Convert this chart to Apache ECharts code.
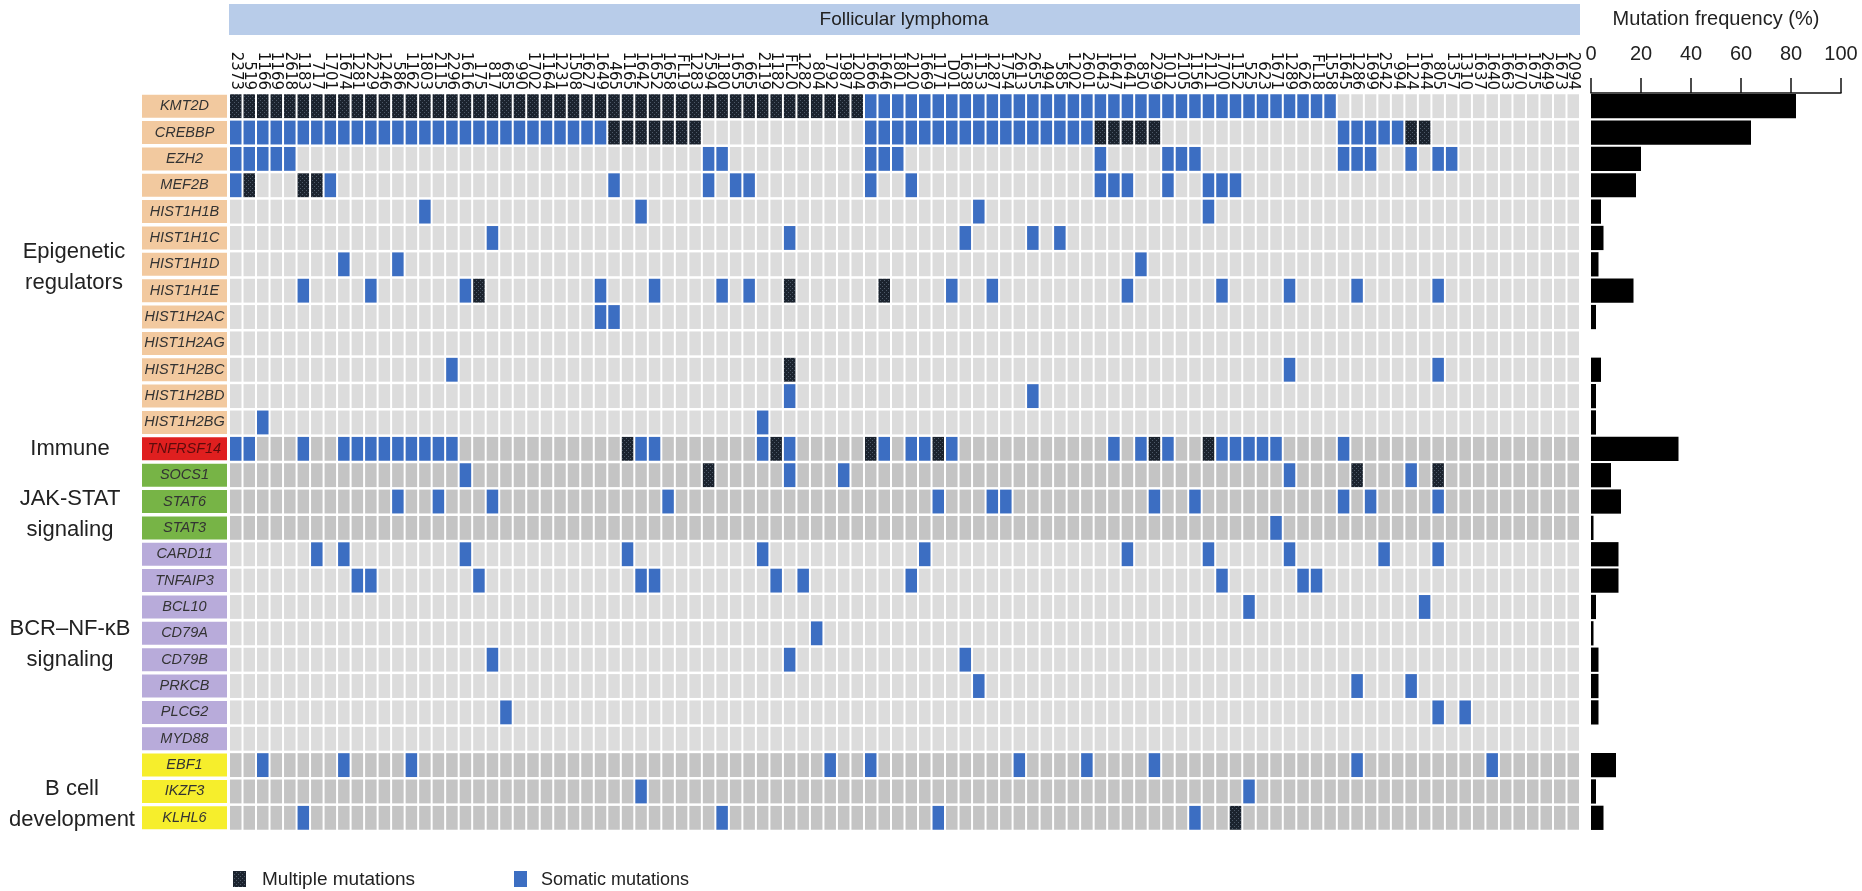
<!DOCTYPE html>
<html>
<head>
<meta charset="utf-8">
<title>Follicular lymphoma mutations</title>
<script src="https://cdn.jsdelivr.net/npm/echarts@6/dist/echarts.min.js"></script>
<style>
html, body { margin: 0; padding: 0; background: #fff; }
#chart { width: 1862px; height: 891px; }
</style>
</head>
<body>
<div id="chart"></div>
<script>
// sample ids, left to right
var samples = ['2373','519','1166','1169','2618','1183','717','1701','1674','1281',
  '2229','1246','586','1162','1803','2115','2296','1616','175','817',
  '685','990','1702','1164','1231','1508','1627','1649','465','1165',
  '1642','1652','1658','FL19','1283','2594','1180','1655','665','2119',
  '1182','FL20','1282','804','1792','1987','1204','1666','1646','1801',
  '2120','1669','1171','D01','1638','1153','1287','1754','2613','2655',
  '494','585','1202','2601','1643','1647','1641','850','2299','1012',
  '2105','1156','2121','1700','1152','525','623','1671','1289','626',
  'FL18','1558','1645','1286','1699','2542','994','1124','1644','805',
  '1357','1310','1637','1640','1663','1670','1675','2649','1673','2094'];

var genes = ['KMT2D','CREBBP','EZH2','MEF2B','HIST1H1B','HIST1H1C','HIST1H1D','HIST1H1E',
  'HIST1H2AC','HIST1H2AG','HIST1H2BC','HIST1H2BD','HIST1H2BG','TNFRSF14',
  'SOCS1','STAT6','STAT3','CARD11','TNFAIP3','BCL10','CD79A','CD79B','PRKCB',
  'PLCG2','MYD88','EBF1','IKZF3','KLHL6'];

var geneGroups = ['epi','epi','epi','epi','epi','epi','epi','epi','epi','epi','epi','epi','epi',
  'imm','jak','jak','jak','bcr','bcr','bcr','bcr','bcr','bcr','bcr','bcr',
  'bcell','bcell','bcell'];

// column numbers (1-based) with a single somatic mutation, one list per gene
var somaticHits = [
  [48,49,50,51,52,53,54,55,56,57,58,59,60,61,62,63,64,65,66,67,68,69,70,71,72,73,74,75,76,77,78,79,80,81,82],
  [1,2,3,4,5,6,7,8,9,10,11,12,13,14,15,16,17,18,19,20,21,22,23,24,25,26,27,28,
   48,49,50,51,52,53,54,55,56,57,58,59,60,61,62,63,64,83,84,85,86,87],
  [1,2,3,4,5,36,37,48,49,50,65,70,71,72,83,84,85,88,90,91],
  [1,8,29,36,38,39,48,51,65,66,67,70,73,74,75],
  [15,31,56,73],
  [20,42,55,60,62],
  [9,13,68],
  [6,11,18,28,32,37,39,54,57,67,74,79,84,90],
  [28,29],
  [],
  [17,79,90],
  [42,60],
  [3,40],
  [1,2,6,9,10,11,12,13,14,15,16,17,31,32,40,42,49,51,52,54,66,68,70,74,75,76,77,78,83],
  [18,42,46,79,88],
  [13,16,20,33,53,57,58,69,72,83,85,90],
  [78],
  [7,9,18,30,40,52,67,73,79,86,90],
  [10,11,19,31,32,41,43,51,74,80,81],
  [76,89],
  [44],
  [20,42,55],
  [56,84,88],
  [21,90,92],
  [],
  [3,9,14,45,48,59,64,69,84,94],
  [31,76],
  [6,37,53,72]
];

// column numbers (1-based) with multiple mutations
var multipleHits = [
  [1,2,3,4,5,6,7,8,9,10,11,12,13,14,15,16,17,18,19,20,21,22,23,24,25,26,27,28,29,30,
   31,32,33,34,35,36,37,38,39,40,41,42,43,44,45,46,47],
  [29,30,31,32,33,34,35,65,66,67,68,69,88,89],
  [],
  [2,6,7],
  [], [], [],
  [19,42,49],
  [], [],
  [42],
  [], [],
  [30,41,48,53,69,73],
  [36,84,90],
  [], [], [], [], [], [], [], [], [], [], [], [],
  [75]
];

// mutation frequency (%)
var mutationFreq = [82,64,20,18,4,5,3,17,2,0,4,2,2,35,8,12,1,11,11,2,1,3,3,3,0,10,2,5];

var freqTicks = [0, 20, 40, 60, 80, 100];

var groupColors = { epi: '#f2c99f', imm: '#df1f1f', jak: '#77b446', bcr: '#b8abda', bcell: '#f6ee2c' };
var shaded = { imm: true, jak: true, bcell: true };

var dom = document.getElementById('chart');
var myChart = echarts.init(dom, null, { renderer: 'canvas' });

// dotted fill for the "multiple mutations" cells
var pat = document.createElement('canvas');
pat.width = 4; pat.height = 4;
var pctx = pat.getContext('2d');
pctx.fillStyle = '#1b232e';
pctx.fillRect(0, 0, 4, 4);
pctx.fillStyle = '#4d5968';
pctx.fillRect(0, 0, 1, 1);
pctx.fillRect(2, 2, 1, 1);
var multiFill = { image: pat, repeat: 'repeat' };

var cells = [];
genes.forEach(function (g, r) {
  var base = shaded[geneGroups[r]] ? 1 : 0;
  for (var c = 0; c < samples.length; c++) {
    var state = base;
    if (somaticHits[r].indexOf(c + 1) >= 0) state = 2;
    if (multipleHits[r].indexOf(c + 1) >= 0) state = 3;
    cells.push([c, r, state]);
  }
});

var cellFill = ['#dcdcdc', '#c4c4c4', '#3c6ec2', multiFill];

var rich = {};
Object.keys(groupColors).forEach(function (k) {
  rich[k] = {
    backgroundColor: groupColors[k],
    width: 85,
    height: 23,
    lineHeight: 23,
    align: 'center',
    fontStyle: 'italic',
    fontSize: 14.5,
    fontFamily: 'Liberation Sans',
    color: k === 'imm' ? '#5c0c0c' : '#333'
  };
});

var labelFont = { fontSize: 22, lineHeight: 31, fontFamily: 'Liberation Sans', fill: '#222',
  textAlign: 'center', textVerticalAlign: 'middle' };
function groupLabel(x, y, text) {
  return { type: 'text', x: x, y: y, style: Object.assign({ text: text }, labelFont) };
}

var option = {
  animation: false,
  grid: [
    { left: 229, right: 282, top: 93, bottom: 60 },
    { left: 1591, right: 21, top: 93, bottom: 60 }
  ],
  xAxis: [
    {
      type: 'category', gridIndex: 0, data: samples, position: 'top',
      axisLine: { show: false }, axisTick: { show: false },
      axisLabel: { interval: 0, rotate: 90, margin: 3, fontSize: 15, fontFamily: 'DejaVu Sans', color: '#111' }
    },
    {
      type: 'value', gridIndex: 1, position: 'top', min: 0, max: 100, interval: 20,
      name: 'Mutation frequency (%)', nameLocation: 'middle', nameGap: 64,
      nameTextStyle: { fontSize: 20, color: '#222', fontFamily: 'Liberation Sans' },
      splitLine: { show: false },
      axisLine: { show: true, lineStyle: { color: '#111', width: 1.5 } },
      axisTick: { show: true, length: 15, lineStyle: { color: '#111', width: 1.5 } },
      axisLabel: { margin: 29, fontSize: 20, color: '#222', fontFamily: 'Liberation Sans',
        customValues: freqTicks }
    }
  ],
  yAxis: [
    {
      type: 'category', gridIndex: 0, data: genes, inverse: true,
      axisLine: { show: false }, axisTick: { show: false },
      axisLabel: {
        interval: 0, margin: 2, rich: rich,
        formatter: function (v, i) { return '{' + geneGroups[i] + '|' + v + '}'; }
      }
    },
    { type: 'category', gridIndex: 1, data: genes, inverse: true, show: false }
  ],
  series: [
    {
      type: 'custom', xAxisIndex: 0, yAxisIndex: 0, data: cells, silent: true,
      encode: { x: 0, y: 1 },
      renderItem: function (params, api) {
        var p = api.coord([api.value(0), api.value(1)]);
        var s = api.size([1, 1]);
        var w = s[0] - 2, h = s[1] - 2.5;
        return {
          type: 'rect',
          shape: { x: p[0] - w / 2, y: p[1] - h / 2, width: w, height: h },
          style: { fill: cellFill[api.value(2)] }
        };
      }
    },
    {
      type: 'bar', xAxisIndex: 1, yAxisIndex: 1, data: mutationFreq,
      barCategoryGap: '8%', itemStyle: { color: '#000' }, silent: true
    }
  ],
  graphic: [
    { type: 'rect', shape: { x: 229, y: 4, width: 1351, height: 31 }, style: { fill: '#b8cce9' } },
    { type: 'text', x: 904, y: 20, style: { text: 'Follicular lymphoma', fontSize: 19, fontFamily: 'Liberation Sans',
      fill: '#222', textAlign: 'center', textVerticalAlign: 'middle' } },
    groupLabel(74, 267, 'Epigenetic\nregulators'),
    groupLabel(70, 449, 'Immune'),
    groupLabel(70, 514, 'JAK-STAT\nsignaling'),
    groupLabel(70, 644, 'BCR\u2013NF-\u03baB\nsignaling'),
    groupLabel(72, 804, 'B cell\ndevelopment'),
    { type: 'rect', shape: { x: 233, y: 871, width: 13, height: 16 }, style: { fill: multiFill } },
    { type: 'text', x: 262, y: 880, style: { text: 'Multiple mutations', fontSize: 19, fontFamily: 'Liberation Sans',
      fill: '#222', textVerticalAlign: 'middle' } },
    { type: 'rect', shape: { x: 514, y: 871, width: 13, height: 16 }, style: { fill: '#3c6ec2' } },
    { type: 'text', x: 541, y: 880, style: { text: 'Somatic mutations', fontSize: 18, fontFamily: 'Liberation Sans',
      fill: '#222', textVerticalAlign: 'middle' } }
  ]
};

myChart.setOption(option);
window.addEventListener('resize', myChart.resize);
</script>
</body>
</html>
